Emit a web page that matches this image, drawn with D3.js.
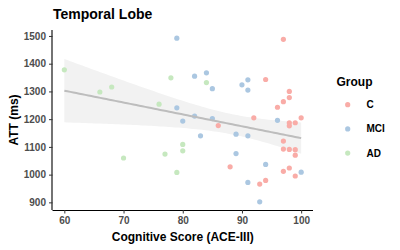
<!DOCTYPE html>
<html lang="en">
<head>
    <meta charset="UTF-8">
    <title>Temporal Lobe</title>
    <script src="https://d3js.org/d3.v7.js"></script>
    <style>
        body { margin: 0; background: #fff; }
        text { font-family: "Liberation Sans", Arial, sans-serif; }
    </style>
</head>
<body>
<svg></svg>
<script>
    // values: [ACE-III score, ATT in ms]
    let groupC = [
        [97, 1488], [94, 1343], [98, 1300], [98, 1278], [97, 1263], [96, 1243],
        [92, 1205], [100, 1205], [86, 1177], [98, 1187], [98, 1176], [99, 1187],
        [97, 1121], [97, 1092], [98, 1091], [99, 1090], [99, 1070], [88, 1028],
        [97, 1012], [98, 1024], [99, 995], [93, 966], [94, 979]
    ];
    let groupMCI = [
        [79, 1492], [82, 1355], [84, 1367], [85, 1310], [79, 1241], [82, 1211],
        [80, 1193], [85, 1202], [83, 1140], [90, 1324], [91, 1342], [91, 1305],
        [89, 1146], [91, 1140], [89, 1076], [94, 1037], [91, 972], [93, 902],
        [96, 1196], [100, 1009]
    ];
    let groupAD = [
        [60, 1378], [66, 1298], [68, 1316], [76, 1254], [78, 1349], [84, 1332],
        [70, 1060], [77, 1074], [79, 1008], [80, 1109], [80, 1086]
    ];
    let groups = ["C", "MCI", "AD"];
    let xTicks = [60, 70, 80, 90, 100];
    let yTicks = [900, 1000, 1100, 1200, 1300, 1400, 1500];

    let width = 400;
    let height = 250;
    let margin = {left: 52.5, right: 87, top: 30, bottom: 40};

    let svg = d3.select("svg")
        .attr("width", width)
        .attr("height", height);

    let color = d3.scaleOrdinal()
        .domain(groups)
        .range(["#f9aca7", "#abc7e1", "#c6e8bf"]);

    let points = [];
    [groupC, groupMCI, groupAD].forEach((arr, i) => {
        arr.forEach(d => points.push({x: d[0], y: d[1], g: groups[i]}));
    });

    // ggplot style 5% expansion
    let xExt = d3.extent(points, d => d.x);
    let yExt = d3.extent(points, d => d.y);
    let xPad = (xExt[1] - xExt[0]) * 0.05;
    let yPad = (yExt[1] - yExt[0]) * 0.05;

    let x = d3.scaleLinear()
        .domain([xExt[0] - xPad, xExt[1] + xPad])
        .range([margin.left, width - margin.right]);
    let y = d3.scaleLinear()
        .domain([yExt[0] - yPad, yExt[1] + yPad])
        .range([height - margin.bottom, margin.top]);

    // linear fit with 95% confidence band (like geom_smooth(method = "lm"))
    let n = points.length;
    let mx = d3.mean(points, d => d.x);
    let my = d3.mean(points, d => d.y);
    let sxx = d3.sum(points, d => (d.x - mx) * (d.x - mx));
    let sxy = d3.sum(points, d => (d.x - mx) * (d.y - my));
    let slope = sxy / sxx;
    let icpt = my - slope * mx;
    let sse = d3.sum(points, d => Math.pow(d.y - (icpt + slope * d.x), 2));
    let s = Math.sqrt(sse / (n - 2));
    let tval = 2.007;
    let fit = d3.range(80).map(i => {
        let xv = xExt[0] + (xExt[1] - xExt[0]) * i / 79;
        let yv = icpt + slope * xv;
        let se = s * Math.sqrt(1 / n + (xv - mx) * (xv - mx) / sxx);
        return {x: xv, y: yv, lo: yv - tval * se, hi: yv + tval * se};
    });

    let plot = svg.append("g");

    plot.append("path")
        .datum(fit)
        .attr("fill", "#f2f2f2")
        .attr("d", d3.area()
            .x(d => x(d.x))
            .y0(d => y(d.lo))
            .y1(d => y(d.hi)));

    plot.selectAll("circle")
        .data(points)
        .enter()
        .append("circle")
        .attr("cx", d => x(d.x))
        .attr("cy", d => y(d.y))
        .attr("r", 2.6)
        .attr("fill", d => color(d.g));

    plot.append("path")
        .datum(fit)
        .attr("fill", "none")
        .attr("stroke", "#bdbdbd")
        .attr("stroke-width", 2)
        .attr("d", d3.line().x(d => x(d.x)).y(d => y(d.y)));

    // axes
    let xAxis = svg.append("g")
        .attr("transform", "translate(0," + (height - margin.bottom) + ")")
        .call(d3.axisBottom(x).tickValues(xTicks).tickFormat(d3.format("d"))
            .tickSize(3.5).tickPadding(3));
    let yAxis = svg.append("g")
        .attr("transform", "translate(" + margin.left + ",0)")
        .call(d3.axisLeft(y).tickValues(yTicks).tickFormat(d3.format("d"))
            .tickSize(3.5).tickPadding(3));

    [xAxis, yAxis].forEach(a => {
        a.select(".domain").attr("stroke", "#000").attr("stroke-width", 1.1);
        a.selectAll(".tick line").attr("stroke", "#333");
        a.selectAll(".tick text")
            .attr("fill", "#4d4d4d")
            .style("font-size", "10px")
            .style("font-weight", "bold")
            .style("font-family", "'Liberation Sans', Arial, sans-serif");
    });
    // ggplot axis lines stop at the panel edge, no outer ticks
    xAxis.select(".domain").attr("d", "M" + x.range()[0] + ",0.5H" + x.range()[1]);
    yAxis.select(".domain").attr("d", "M-0.5," + y.range()[0] + "V" + y.range()[1]);

    // titles
    svg.append("text")
        .attr("x", 53)
        .attr("y", 18.5)
        .style("font-size", "14px")
        .style("font-weight", "bold")
        .text("Temporal Lobe");

    svg.append("text")
        .attr("x", (x.range()[0] + x.range()[1]) / 2)
        .attr("y", 241)
        .attr("text-anchor", "middle")
        .style("font-size", "12px")
        .style("font-weight", "bold")
        .text("Cognitive Score (ACE-III)");

    svg.append("text")
        .attr("transform", "translate(18," + (y.range()[0] + y.range()[1]) / 2 + ") rotate(-90)")
        .attr("text-anchor", "middle")
        .style("font-size", "12px")
        .style("font-weight", "bold")
        .text("ATT (ms)");

    // legend
    let legend = svg.append("g");
    legend.append("text")
        .attr("x", 336.5)
        .attr("y", 85.5)
        .style("font-size", "12px")
        .style("font-weight", "bold")
        .text("Group");

    let keys = legend.selectAll("g.key")
        .data(groups)
        .enter()
        .append("g")
        .attr("class", "key")
        .attr("transform", (d, i) => "translate(0," + (104.7 + i * 24.2) + ")");
    keys.append("circle")
        .attr("cx", 347.7)
        .attr("r", 2.6)
        .attr("fill", d => color(d));
    keys.append("text")
        .attr("x", 366.5)
        .attr("dy", "0.35em")
        .style("font-size", "10px")
        .style("font-weight", "bold")
        .text(d => d);
</script>
</body>
</html>
